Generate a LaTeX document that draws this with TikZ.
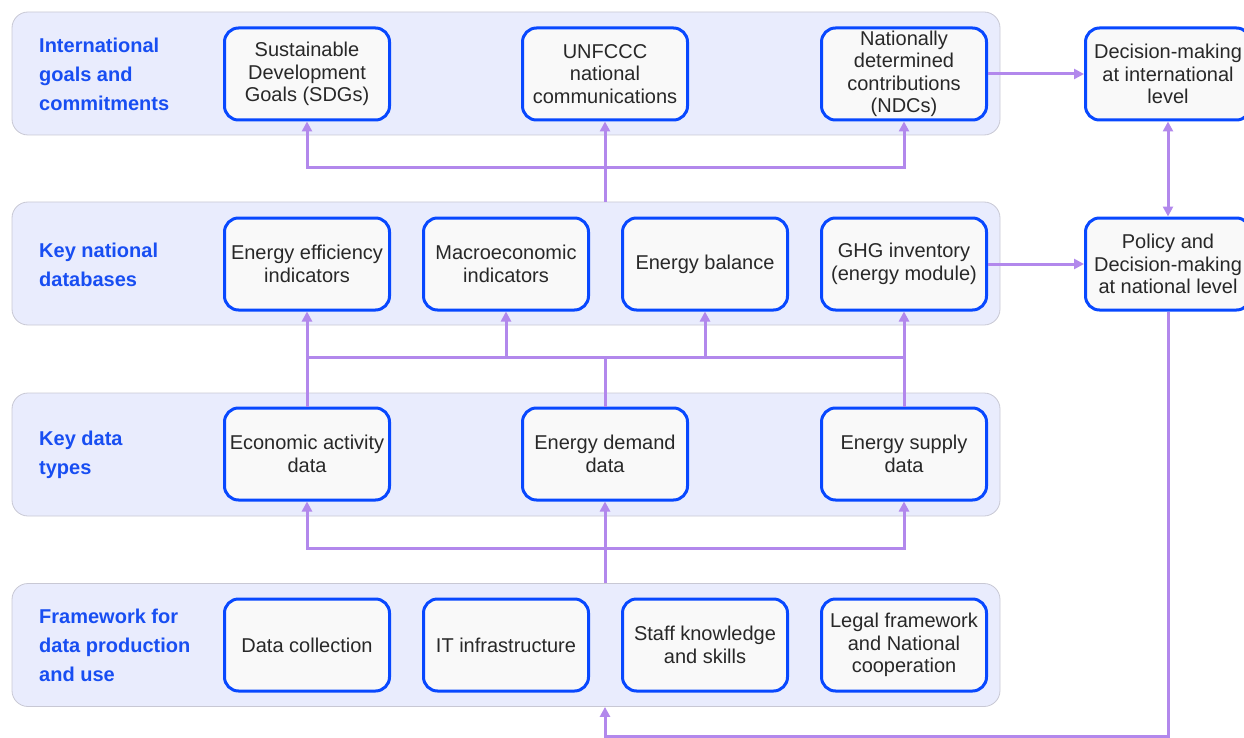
\documentclass[tikz,border=0pt]{standalone}
\usepackage{fontspec}
\setmainfont{Liberation Sans}
\usepackage{tikz}
\usetikzlibrary{arrows.meta,calc,positioning}
\definecolor{bandFill}{RGB}{233,236,253}
\definecolor{bandEdge}{RGB}{200,200,212}
\definecolor{boxEdge}{RGB}{8,72,255}
\definecolor{boxFill}{RGB}{249,249,249}
\definecolor{labelBlue}{RGB}{24,78,242}
\definecolor{flowPurple}{RGB}{178,136,236}
\definecolor{boxText}{RGB}{40,40,40}
\tikzset{
  band/.style={draw=bandEdge, fill=bandFill, line width=0.8pt, rounded corners=16pt,
    minimum width=988pt, minimum height=123pt, inner sep=0pt},
  bandLabel/.style={anchor=west, align=left, text=labelBlue, inner sep=0pt,
    font=\fontsize{20}{29}\selectfont\bfseries},
  box/.style={draw=boxEdge, fill=boxFill, line width=3pt, rounded corners=14pt,
    minimum width=165pt, minimum height=92pt, inner sep=2pt, align=center, text=boxText,
    font=\fontsize{20}{22.5}\selectfont},
  flowLine/.style={draw=flowPurple, line width=3pt},
  flowArrow/.style={flowLine, -{Triangle[length=10pt,width=10pt]}},
  flowBoth/.style={flowLine, {Triangle[length=10pt,width=10pt]}-{Triangle[length=10pt,width=10pt]}}
}
\begin{document}
\begin{tikzpicture}[x=1pt,y=-1pt]
  \useasboundingbox (0,0) rectangle (1244,738);
  % bands
  \node[band] (bandA) at (506,73.5) {};
  \node[band] (bandB) at (506,263.5) {};
  \node[band] (bandC) at (506,454.5) {};
  \node[band] (bandD) at (506,645) {};
  \node[bandLabel] (labA) at (39,74) {International\\goals and\\commitments};
  \node[bandLabel] (labB) at (39,265) {Key national\\databases};
  \node[bandLabel] (labC) at (39,455) {Key data\\types};
  \node[bandLabel] (labD) at (39,645) {Framework for\\data production\\and use};
  % international goals
  \node[box] (sdg) at (307,74) {Sustainable\\Development\\Goals (SDGs)};
  \node[box] (unfccc) at (605,74) {UNFCCC\\national\\communications};
  \node[box] (ndc) at (904,74) {Nationally\\determined\\contributions\\(NDCs)};
  % national databases
  \node[box] (eei) at (307,264) {Energy efficiency\\indicators};
  \node[box] (macro) at (506,264) {Macroeconomic\\indicators};
  \node[box] (balance) at (705,264) {Energy balance};
  \node[box] (ghg) at (904,264) {GHG inventory\\(energy module)};
  % data types
  \node[box] (econ) at (307,454) {Economic activity\\data};
  \node[box] (demand) at (605,454) {Energy demand\\data};
  \node[box] (supply) at (904,454) {Energy supply\\data};
  % framework
  \node[box] (collect) at (307,645) {Data collection};
  \node[box] (infra) at (506,645) {IT infrastructure};
  \node[box] (staff) at (705,645) {Staff knowledge\\and skills};
  \node[box] (legal) at (904,645) {Legal framework\\and National\\cooperation};
  % decision making
  \node[box] (decInt) at (1168,74) {Decision-making\\at international\\level};
  \node[box] (decNat) at (1168,264) {Policy and\\Decision-making\\at national level};
  % buses
  \coordinate (busA) at (605,168);
  \coordinate (busB) at (605,357);
  \coordinate (busC) at (605,548);
  \coordinate (loopEnd) at (605,736);
  % framework -> data types
  \draw[flowArrow] (bandD.north -| demand.south) -- (demand.south);
  \draw[flowArrow] (busC) -| (econ.south);
  \draw[flowArrow] (busC) -| (supply.south);
  % data types -> databases
  \draw[flowArrow] (econ.north) -- (eei.south);
  \draw[flowArrow] (supply.north) -- (ghg.south);
  \draw[flowLine] (demand.north) -- (busB);
  \draw[flowLine] (econ.north |- busB) -- (supply.north |- busB);
  \draw[flowArrow] (macro.south |- busB) -- (macro.south);
  \draw[flowArrow] (balance.south |- busB) -- (balance.south);
  % databases -> goals
  \draw[flowArrow] (bandB.north -| unfccc.south) -- (unfccc.south);
  \draw[flowArrow] (busA) -| (sdg.south);
  \draw[flowArrow] (busA) -| (ndc.south);
  % to decision making
  \draw[flowArrow] (ndc.east) -- (decInt.west);
  \draw[flowArrow] (ghg.east) -- (decNat.west);
  \draw[flowBoth] (decInt.south) -- (decNat.north);
  \draw[flowArrow] (decNat.south) |- (loopEnd) -- (loopEnd |- bandD.south);
\end{tikzpicture}
\end{document}
